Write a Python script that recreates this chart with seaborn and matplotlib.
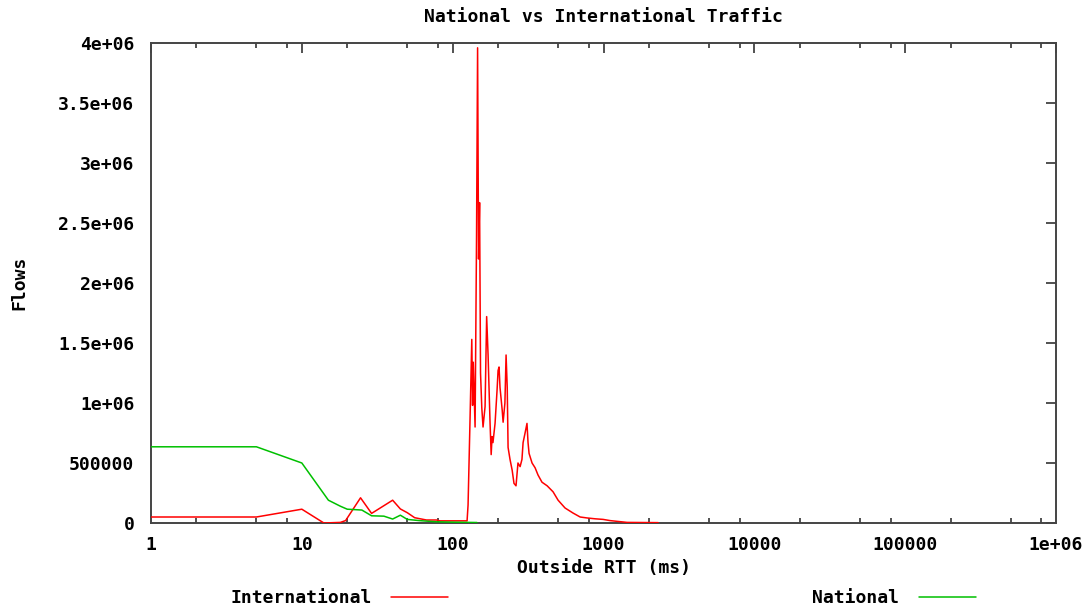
import numpy as np
import pandas as pd
import matplotlib
matplotlib.use("Agg")
import matplotlib.pyplot as plt
from matplotlib.lines import Line2D
from matplotlib.ticker import FixedLocator, FixedFormatter
import seaborn as sns

# ---- data ----
intl_rtt = [1, 5, 10, 14, 18, 19.5, 24.5, 29, 40, 45, 50, 56, 67, 78, 82, 124.6,
            126.5, 130.4, 133.9, 135.5, 137, 140.8, 144, 146.3, 148.5, 150.8, 153,
            156, 159, 164, 168, 171.7, 177, 180, 182.5, 185, 191, 197, 200, 203,
            206, 213, 216, 222, 226, 230, 233, 240, 248, 255, 263, 271, 280, 288,
            293, 302, 311, 316, 321, 336, 352, 368, 391, 423, 463, 500, 556, 628,
            700, 779, 880, 994, 1106, 1433, 2302]
intl_flows = [50000, 50000, 115000, 0, 5000, 20000, 210000, 80000, 190000, 117000,
              86000, 44000, 25000, 25000, 18000, 18000,
              150000, 870000, 1530000, 980000, 1340000, 800000, 2400000, 3960000,
              2200000, 2670000, 1250000,
              960000, 800000, 970000, 1720000, 1400000, 830000, 570000, 720000,
              670000, 830000, 1110000, 1270000, 1300000,
              1130000, 940000, 840000, 1000000, 1400000, 1130000, 630000, 530000,
              440000, 330000, 310000, 500000, 470000, 530000,
              670000, 750000, 830000, 670000, 580000, 500000, 460000, 400000,
              340000, 310000, 260000, 190000, 125000, 83000,
              50000, 42000, 35000, 30000, 20000, 5000, 3000]

natl_rtt = [1, 5, 10, 15, 18, 20, 25, 29, 35, 40, 45, 50, 60, 78, 100, 145]
natl_flows = [635000, 635000, 500000, 190000, 140000, 115000, 108000, 60000, 57000,
              33000, 65000, 30000, 20000, 10000, 7000, 4000]

y_ticks = [0, 500000, 1000000, 1500000, 2000000, 2500000, 3000000, 3500000, 4000000]
y_labels = ["0", "500000", "1e+06", "1.5e+06", "2e+06", "2.5e+06", "3e+06",
            "3.5e+06", "4e+06"]
x_ticks = [1, 10, 100, 1000, 10000, 100000, 1000000]
x_labels = ["1", "10", "100", "1000", "10000", "100000", "1e+06"]

title = "National vs International Traffic"
xlabel = "Outside RTT (ms)"
ylabel = "Flows"

RED = "#ff0000"
GREEN = "#00c000"

sns.set_style("white")
plt.rcParams["font.family"] = ["DejaVu Sans Mono"]
plt.rcParams["font.weight"] = "bold"
plt.rcParams["text.color"] = "black"
plt.rcParams["axes.labelcolor"] = "black"
FS = 13

fig = plt.figure(figsize=(10.92, 6.09), dpi=100)
ax = fig.add_axes([151 / 1092, 1 - 523 / 609, (1056 - 151) / 1092, (523 - 43) / 609])

df_i = pd.DataFrame({"rtt": intl_rtt, "flows": intl_flows})
df_n = pd.DataFrame({"rtt": natl_rtt, "flows": natl_flows})
sns.lineplot(data=df_i, x="rtt", y="flows", ax=ax, color=RED, lw=1.1,
             estimator=None, sort=False, zorder=3)
sns.lineplot(data=df_n, x="rtt", y="flows", ax=ax, color=GREEN, lw=1.1,
             estimator=None, sort=False, zorder=4)

ax.set_xscale("log")
ax.set_xlim(1, 1e6)
ax.set_ylim(0, 4e6)

ax.xaxis.set_major_locator(FixedLocator(x_ticks))
ax.xaxis.set_major_formatter(FixedFormatter(x_labels))
minor = [m * 10 ** d for d in range(6) for m in (2, 5, 8)]
ax.xaxis.set_minor_locator(FixedLocator(minor))
ax.xaxis.set_minor_formatter(FixedFormatter([""] * len(minor)))
ax.yaxis.set_major_locator(FixedLocator(y_ticks))
ax.yaxis.set_major_formatter(FixedFormatter(y_labels))

ax.tick_params(axis="both", which="major", direction="in", length=7, width=1.2,
               color="#333333", labelsize=FS, labelcolor="black",
               top=True, right=True)
ax.tick_params(axis="x", which="major", pad=9)
ax.tick_params(axis="y", which="major", pad=12)
ax.tick_params(axis="x", which="minor", direction="in", length=3.5, width=1.2,
               color="#333333", top=True, bottom=True)
for lab in ax.get_xticklabels() + ax.get_yticklabels():
    lab.set_fontweight("bold")

for s in ax.spines.values():
    s.set_color("#444444")
    s.set_linewidth(1.4)
    s.set_visible(True)

ax.set_xlabel(xlabel, fontsize=FS, fontweight="bold", labelpad=4, color="black")
ax.set_ylabel(ylabel, fontsize=FS, fontweight="bold", color="black")
ax.yaxis.set_label_coords(-0.135, 0.5)
fig.suptitle(title, x=(151 + 1056) / 2 / 1092, y=1 - 17 / 609, va="center",
             fontsize=FS, fontweight="bold", color="black")

# legend below, gnuplot style (text then sample)
h_i = Line2D([], [], color=RED, lw=1.1)
h_n = Line2D([], [], color=GREEN, lw=1.1)
common = dict(loc="center left", frameon=False, markerfirst=False, borderpad=0,
              borderaxespad=0, handlelength=3.15, handletextpad=1.1,
              labelcolor="black",
              prop={"family": "DejaVu Sans Mono", "weight": "bold", "size": FS})
leg1 = fig.legend(handles=[h_i], labels=["International"],
                  bbox_to_anchor=(230 / 1092, 1 - 598 / 609), **common)
leg2 = fig.legend(handles=[h_n], labels=["National"],
                  bbox_to_anchor=(812 / 1092, 1 - 598 / 609), **common)

fig.savefig("out.png", dpi=100, facecolor="white")
